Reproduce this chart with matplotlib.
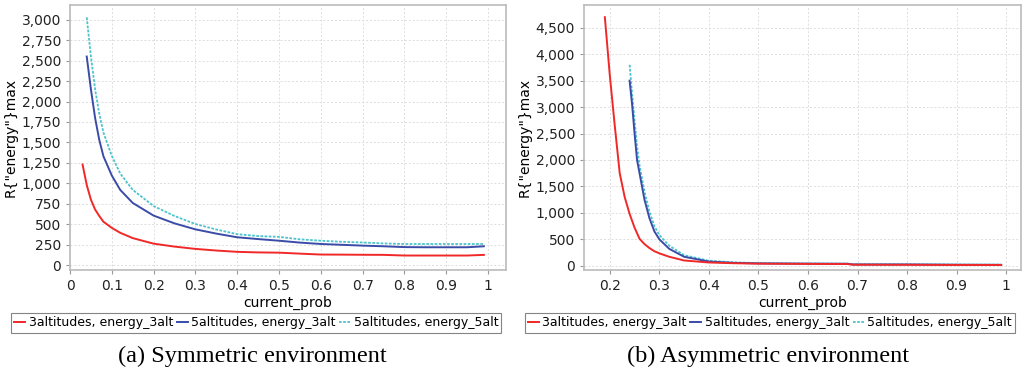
import matplotlib.pyplot as plt
from matplotlib.ticker import FuncFormatter, MultipleLocator

# (a) symmetric environment
sym_x_red = [0.03, 0.04, 0.05, 0.06, 0.07, 0.08, 0.1, 0.12, 0.15, 0.2, 0.25, 0.3, 0.35, 0.4,
             0.45, 0.5, 0.55, 0.6, 0.65, 0.7, 0.75, 0.8, 0.85, 0.9, 0.95, 0.99]
sym_red = [1230, 980, 800, 680, 600, 530, 455, 395, 330, 262, 226, 198, 178, 162,
           155, 152, 140, 129, 128, 126, 125, 117, 117, 117, 117, 125]
sym_x = [0.04, 0.05, 0.06, 0.07, 0.08, 0.1, 0.12, 0.15, 0.2, 0.25, 0.3, 0.35, 0.4,
         0.45, 0.5, 0.55, 0.6, 0.65, 0.7, 0.75, 0.8, 0.85, 0.9, 0.95, 0.99]
sym_blue = [2550, 2150, 1800, 1530, 1330, 1095, 920, 760, 605, 510, 437, 385, 340,
            318, 298, 275, 258, 248, 238, 230, 220, 218, 218, 218, 230]
sym_cyan = [3030, 2550, 2150, 1850, 1620, 1335, 1120, 920, 722, 600, 502, 435, 378,
            355, 345, 315, 298, 285, 276, 265, 258, 258, 258, 258, 258]

# (b) asymmetric environment
asym_x_red = [0.19, 0.2, 0.21, 0.22, 0.23, 0.24, 0.25, 0.26, 0.27, 0.28, 0.29, 0.3, 0.32,
              0.35, 0.4, 0.45, 0.5, 0.6, 0.68, 0.69, 0.8, 0.9, 0.99]
asym_red = [4700, 3600, 2650, 1750, 1300, 980, 720, 510, 410, 335, 275, 235, 170,
            100, 62, 48, 40, 35, 33, 20, 18, 15, 15]
asym_x = [0.24, 0.245, 0.25, 0.255, 0.26, 0.27, 0.28, 0.29, 0.3, 0.32, 0.35, 0.4,
          0.45, 0.5, 0.6, 0.68, 0.69, 0.8, 0.9, 0.99]
asym_blue = [3500, 3050, 2500, 2000, 1750, 1250, 900, 650, 500, 320, 170, 80,
             55, 45, 40, 38, 25, 25, 20, 18]
asym_cyan = [3800, 3250, 2750, 2250, 1900, 1400, 1020, 750, 580, 380, 200, 95,
             65, 50, 42, 40, 27, 26, 22, 20]

labels = ["3altitudes, energy_3alt", "5altitudes, energy_3alt", "5altitudes, energy_5alt"]
red, blue, cyan = "#f02828", "#3a4ca8", "#4cc4cc"

fig = plt.figure(figsize=(10.25, 3.82), dpi=100)
ax1 = fig.add_axes([0.0683, 0.2932, 0.4254, 0.6937])
ax2 = fig.add_axes([0.5698, 0.2932, 0.4263, 0.6937])


def style(ax, xlim, ylim, ystep, xticks):
    ax.set_xlim(*xlim)
    ax.set_ylim(*ylim)
    ax.yaxis.set_major_locator(MultipleLocator(ystep))
    ax.set_xticks(xticks)
    ax.xaxis.set_major_formatter(FuncFormatter(lambda v, p: "1" if abs(v - 1) < 1e-9 else ("0" if v == 0 else f"{v:.1f}")))
    ax.yaxis.set_major_formatter(FuncFormatter(lambda v, p: f"{int(v):,}"))
    ax.grid(True, color="#dddddd", linestyle=(0, (2, 2)), linewidth=0.7)
    ax.set_axisbelow(True)
    for s in ax.spines.values():
        s.set_color("#bbbbbb")
        s.set_linewidth(1.2)
    ax.tick_params(colors="#999999", labelcolor="#222222", labelsize=10, length=3)
    ax.set_xlabel("current_prob", fontsize=10, labelpad=2)
    ax.set_ylabel('R{"energy"}max', fontsize=10, labelpad=3)


ax1.plot(sym_x, sym_cyan, color=cyan, linestyle=(0, (1.5, 0.8)), linewidth=1.3, label=labels[2], zorder=2)
ax1.plot(sym_x, sym_blue, color=blue, linewidth=1.4, label=labels[1], zorder=3)
ax1.plot(sym_x_red, sym_red, color=red, linewidth=1.4, label=labels[0], zorder=4)
style(ax1, (0, 1.043), (-60, 3180), 250, [0, 0.1, 0.2, 0.3, 0.4, 0.5, 0.6, 0.7, 0.8, 0.9, 1.0])

ax2.plot(asym_x, asym_cyan, color=cyan, linestyle=(0, (1.5, 0.8)), linewidth=1.3, label=labels[2], zorder=2)
ax2.plot(asym_x, asym_blue, color=blue, linewidth=1.4, label=labels[1], zorder=3)
ax2.plot(asym_x_red, asym_red, color=red, linewidth=1.4, label=labels[0], zorder=4)
style(ax2, (0.148, 1.03), (-80, 4930), 500, [0.2, 0.3, 0.4, 0.5, 0.6, 0.7, 0.8, 0.9, 1.0])

for ax, cx in ((ax1, 0.427), (ax2, 0.425)):
    h, l = ax.get_legend_handles_labels()
    order = [2, 1, 0]
    leg = ax.legend([h[i] for i in order], [l[i] for i in order], loc="center",
                    bbox_to_anchor=(cx, -0.2), ncol=3, fontsize=9, frameon=True,
                    fancybox=False, edgecolor="#666666", handlelength=0.9,
                    handletextpad=0.25, columnspacing=0.3, borderpad=0.25,
                    borderaxespad=0)
    leg.get_frame().set_linewidth(0.8)

fig.text(252 / 1025, 1 - 356 / 382, "(a) Symmetric environment", ha="center", va="center",
         fontsize=17.5, family="Liberation Serif")
fig.text(768 / 1025, 1 - 356 / 382, "(b) Asymmetric environment", ha="center", va="center",
         fontsize=17.5, family="Liberation Serif")

fig.savefig("out.png", dpi=100)
